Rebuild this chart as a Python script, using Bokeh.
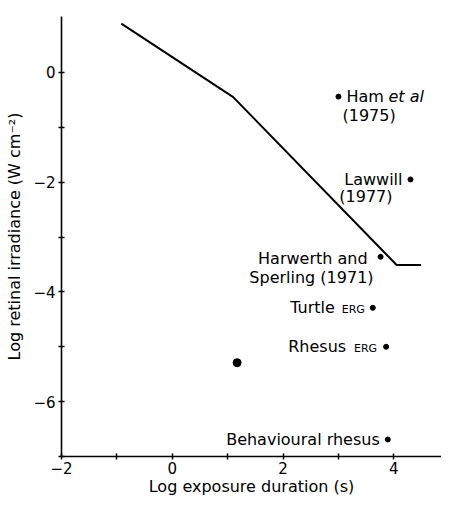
from bokeh.plotting import figure
from bokeh.models import Range1d, FixedTicker, ColumnDataSource
from bokeh.core.properties import value
from bokeh.embed import file_html
from bokeh.resources import INLINE

# --- data ---
limit_x = [-0.92, 1.1, 4.05, 4.49]
limit_y = [0.89, -0.45, -3.51, -3.51]

study_x = [3.0, 4.3, 3.76, 3.62, 3.86, 1.17, 3.89]
study_y = [-0.44, -1.95, -3.36, -4.29, -5.0, -5.29, -6.69]
study_names = ["Ham et al (1975)", "Lawwill (1977)", "Harwerth and Sperling (1971)",
               "Turtle ERG", "Rhesus ERG", "", "Behavioural rhesus"]

x_major = [-2, 0, 2, 4]
x_minor = [-1, 1, 3, 5]
y_major = [0, -2, -4, -6]
y_minor = [-1, -3, -5, -7]

FONT = "DejaVu Sans"

p = figure(width=441, height=498, x_range=Range1d(-2, 4.86), y_range=Range1d(-7, 1.02),
           output_backend="svg", toolbar_location=None,
           min_border_left=61, min_border_right=0, min_border_top=16, min_border_bottom=42)
p.xgrid.visible = False
p.ygrid.visible = False
p.outline_line_color = None
p.background_fill_color = "white"
p.border_fill_color = "white"

p.xaxis.ticker = FixedTicker(ticks=x_major, minor_ticks=x_minor)
p.yaxis.ticker = FixedTicker(ticks=y_major, minor_ticks=y_minor)
p.xaxis.axis_label = "Log exposure duration (s)"
p.yaxis.axis_label = "Log retinal irradiance (W cm\u207b\u00b2)"

for ax in (p.xaxis[0], p.yaxis[0]):
    ax.axis_line_width = 1.6
    ax.axis_line_color = "black"
    ax.major_tick_line_color = "black"
    ax.minor_tick_line_color = "black"
    ax.major_tick_line_width = 1.5
    ax.minor_tick_line_width = 1.5
    ax.major_tick_in = 3
    ax.major_tick_out = 3
    ax.minor_tick_in = 3
    ax.minor_tick_out = 3
    ax.major_label_text_font = FONT
    ax.major_label_text_font_size = "15px"
    ax.major_label_text_color = "black"
    ax.axis_label_text_font = FONT
    ax.axis_label_text_font_size = "16px"
    ax.axis_label_text_font_style = "normal"
    ax.axis_label_text_color = "black"

p.xaxis.major_label_standoff = 2
p.xaxis.axis_label_standoff = 0
p.yaxis.major_label_standoff = 3
p.yaxis.axis_label_standoff = 6

# limit line
p.line(limit_x, limit_y, line_color="black", line_width=2)

# study points
sizes = [5, 5, 5, 5, 5, 8, 5]
p.scatter(x=study_x, y=study_y, size=sizes, color="black")

# labels: (point index, text, dx, dy, align, size, style)
pieces = [
    (0, "Ham", 8, 0, "left", "16px", "normal"),
    (0, "et al", 50, 0, "left", "16px", "italic"),
    (0, "(1975)", 4, 19, "left", "16px", "normal"),
    (1, "Lawwill", -8, 0, "right", "16px", "normal"),
    (1, "(1977)", -18, 17, "right", "16px", "normal"),
    (2, "Harwerth and", -13, 2, "right", "16px", "normal"),
    (2, "Sperling (1971)", -7, 21, "right", "16px", "normal"),
    (3, "Turtle", -38, 0, "right", "16px", "normal"),
    (3, "ERG", -8, 2, "right", "11px", "normal"),
    (4, "Rhesus", -40, 0, "right", "16px", "normal"),
    (4, "ERG", -9, 2, "right", "11px", "normal"),
    (6, "Behavioural rhesus", -8, 0, "right", "16px", "normal"),
]

groups = {}
for idx, txt, dx, dy, align, size, style in pieces:
    groups.setdefault((align, size, style), []).append((idx, txt, dx, dy))

for (align, size, style), rows in groups.items():
    src = ColumnDataSource(dict(
        x=[study_x[r[0]] for r in rows],
        y=[study_y[r[0]] for r in rows],
        text=[r[1] for r in rows],
        dx=[r[2] for r in rows],
        dy=[r[3] for r in rows],
    ))
    p.text(x="x", y="y", text="text", x_offset="dx", y_offset="dy", source=src,
           text_align=align, text_baseline="middle", text_font=value(FONT),
           text_font_size=size, text_font_style=style, text_color="black")

open("out.html", "w").write(file_html(p, INLINE))
